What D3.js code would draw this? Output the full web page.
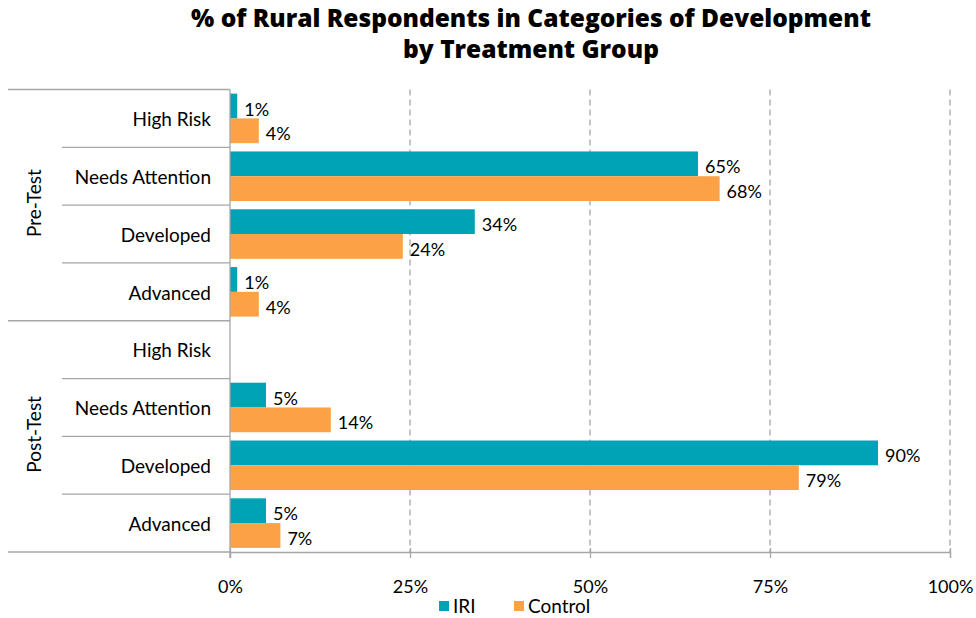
<!DOCTYPE html>
<html>
<head>
<meta charset="utf-8">
<script src="https://cdn.jsdelivr.net/npm/d3@7"></script>
<style>
  body { margin: 0; background: #fff; }
  svg { display: block; font-family: Lato, "Open Sans", sans-serif; }
</style>
</head>
<body>
<svg id="chart" width="976" height="618"></svg>
<script>
// Development categories, grouped by test phase (top to bottom)
const phases = ["Pre-Test", "Post-Test"];
const categories = ["High Risk", "Needs Attention", "Developed", "Advanced"];
const seriesNames = ["IRI", "Control"];
// Percent of respondents, in category order for each phase
const iriPre = [1, 65, 34, 1];
const controlPre = [4, 68, 24, 4];
const iriPost = [0, 5, 90, 5];
const controlPost = [0, 14, 79, 7];
const xTicks = [0, 25, 50, 75, 100];
const titleLines = ["% of Rural Respondents in Categories of Development", "by Treatment Group"];

const colors = { IRI: "#00A2B6", Control: "#FCA145" };

const rows = [];
phases.forEach((p, pi) => {
  const iri = pi === 0 ? iriPre : iriPost;
  const ctl = pi === 0 ? controlPre : controlPost;
  categories.forEach((c, ci) => {
    rows.push({ key: p + "|" + c, phase: p, cat: c, IRI: iri[ci], Control: ctl[ci] });
  });
});

const svg = d3.select("#chart");
const plotLeft = 230, plotRight = 950, plotTop = 89.5, plotBottom = 552;

const x = d3.scaleLinear().domain([0, 100]).range([plotLeft, plotRight]);
const y = d3.scaleBand().domain(rows.map(d => d.key)).range([plotTop, plotBottom]).paddingInner(0).paddingOuter(0);
const inner = d3.scaleBand().domain(seriesNames).range([0, y.bandwidth()]).paddingOuter(0.167).paddingInner(0);

// Title, two centred lines
svg.append("g")
  .selectAll("text")
  .data(titleLines)
  .join("text")
  .attr("x", 531)
  .attr("y", (d, i) => 27 + i * 31)
  .attr("text-anchor", "middle")
  .style("font-family", "'Open Sans', Lato, sans-serif")
  .style("font-weight", 800).style("font-size", "24.5px").attr("fill", "#000")
  .text(d => d);

// Dashed vertical gridlines
svg.append("g")
  .selectAll("line")
  .data(xTicks.filter(t => t > 0))
  .join("line")
  .attr("x1", d => x(d)).attr("x2", d => x(d))
  .attr("y1", plotTop).attr("y2", plotBottom)
  .attr("stroke", "#a6a6a6").attr("stroke-width", 1.3)
  .attr("stroke-dasharray", "6,4");

// Bars
const rowG = svg.append("g").selectAll("g")
  .data(rows)
  .join("g")
  .attr("transform", d => `translate(0,${y(d.key)})`);

rowG.selectAll("rect")
  .data(d => seriesNames.map(s => ({ s, v: d[s] })))
  .join("rect")
  .attr("x", x(0))
  .attr("y", d => inner(d.s))
  .attr("width", d => x(d.v) - x(0))
  .attr("height", inner.bandwidth())
  .attr("fill", d => colors[d.s]);

// Value labels
rowG.selectAll("text")
  .data(d => seriesNames.map(s => ({ s, v: d[s] })).filter(e => e.v > 0))
  .join("text")
  .attr("x", d => x(d.v) + 7)
  .attr("y", d => inner(d.s) + inner.bandwidth() / 2 + 3)
  .attr("dy", "0.36em")
  .style("font-size", "18px").attr("fill", "#000")
  .text(d => d.v + "%");

// Bottom axis
const xAxis = d3.axisBottom(x)
  .tickValues(xTicks)
  .tickFormat(d => d + "%")
  .tickSize(6)
  .tickPadding(22);
const ax = svg.append("g").attr("transform", `translate(0,${plotBottom})`).call(xAxis);
ax.select(".domain").attr("stroke", "#a6a6a6").attr("stroke-width", 1.3);
ax.selectAll(".tick line").attr("stroke", "#a6a6a6").attr("stroke-width", 1.3).attr("y1", -4);
ax.selectAll(".tick text").style("font-size", "18px").style("font-family", "Lato, sans-serif").attr("fill", "#000");

// Left category axis with separators
const axisColor = "#a6a6a6";
const lg = svg.append("g");
lg.append("line")
  .attr("x1", plotLeft).attr("x2", plotLeft).attr("y1", plotTop).attr("y2", plotBottom + 6)
  .attr("stroke", axisColor).attr("stroke-width", 1.3);

const boundaries = d3.range(rows.length + 1);
lg.selectAll("line.sep")
  .data(boundaries)
  .join("line")
  .attr("class", "sep")
  .attr("x1", i => (i % categories.length === 0) ? 8 : 62)
  .attr("x2", plotLeft)
  .attr("y1", i => plotTop + i * y.step())
  .attr("y2", i => plotTop + i * y.step())
  .attr("stroke", axisColor).attr("stroke-width", 1.3);

lg.selectAll("text.cat")
  .data(rows)
  .join("text")
  .attr("class", "cat")
  .attr("x", 211)
  .attr("y", d => y(d.key) + y.bandwidth() / 2 + 1)
  .attr("dy", "0.36em")
  .attr("text-anchor", "end")
  .style("font-size", "19px").attr("fill", "#000")
  .text(d => d.cat);

lg.selectAll("text.phase")
  .data(phases)
  .join("text")
  .attr("class", "phase")
  .attr("transform", (p, i) => {
    const cy = plotTop + (i * categories.length + categories.length / 2) * y.step();
    return `translate(34,${cy - 2}) rotate(-90)`;
  })
  .attr("dy", "0.36em")
  .attr("text-anchor", "middle")
  .style("font-size", "19px").attr("fill", "#000")
  .text(p => p);

// Legend
const legendX = [439, 514];
const leg = svg.append("g").selectAll("g")
  .data(seriesNames)
  .join("g")
  .attr("transform", (d, i) => `translate(${legendX[i]},601)`);
leg.append("rect").attr("width", 10).attr("height", 10).attr("fill", d => colors[d]);
leg.append("text").attr("x", 14).attr("y", 12)
  .style("font-size", "19px").attr("fill", "#000").text(d => d);
</script>
</body>
</html>
